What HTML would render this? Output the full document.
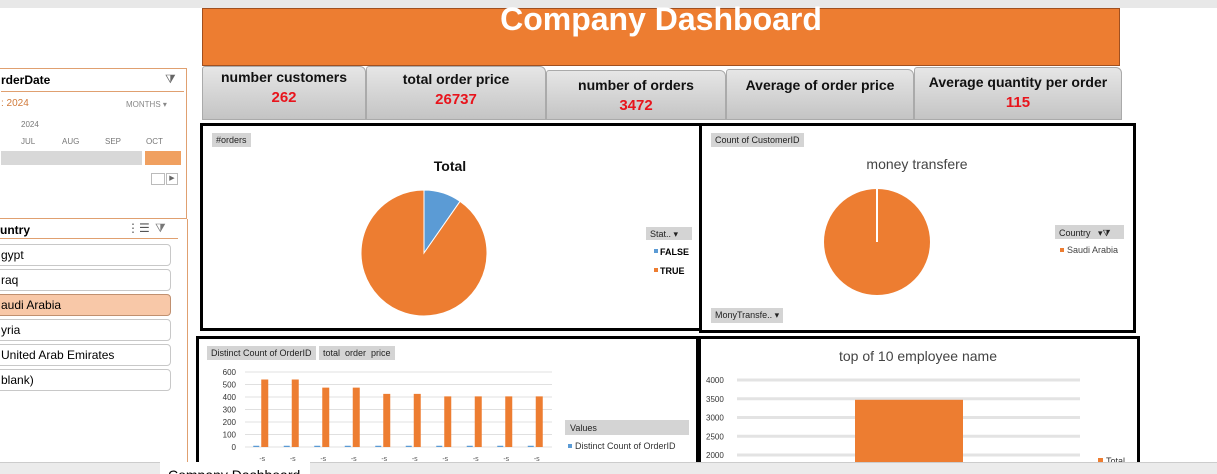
<!DOCTYPE html>
<html style="width:1217px;height:474px;overflow:hidden"><head><meta charset="utf-8"><style>
body{margin:0;width:1217px;height:474px;overflow:hidden;background:#fff;font-family:"Liberation Sans",sans-serif;position:relative}
.a{position:absolute;box-sizing:border-box}
.card{background:linear-gradient(#e6e6e6,#c4c4c4);border:1px solid #aaa;border-radius:3px 6px 0 0;text-align:center;font-weight:bold;font-size:14px;color:#111}
.card .v{color:#e8141c;font-size:15px;margin-top:4px}
.box{border:3px solid #000;background:#fff}
.tag{position:absolute;background:#d4d4d4;font-size:9px;padding:2px 4px;color:#222;white-space:nowrap}
.item{position:absolute;left:-10px;width:181px;height:22px;border:1px solid #c8c8c8;border-radius:4px;font-size:12px;padding:3px 0 0 10px;box-sizing:border-box;background:#fff}
</style></head><body>
<div class="a" style="left:0;top:0;width:1217px;height:8px;background:#e8e8e8"></div>
<div class="a" style="left:202px;top:8px;width:918px;height:58px;background:#ed7d31;border:1px solid #a05020"></div>
<div class="a" style="left:202px;top:0;width:918px;color:#fff;font-weight:bold;font-size:32px;text-align:center;line-height:38px">Company Dashboard</div>

<div class="a card" style="left:202px;top:66px;width:164px;height:54px;padding-top:2px">number customers<div class="v">262</div></div>
<div class="a card" style="left:366px;top:66px;width:180px;height:54px;padding-top:4px">total order price<div class="v">26737</div></div>
<div class="a card" style="left:546px;top:70px;width:180px;height:50px;padding-top:6px">number of orders<div class="v">3472</div></div>
<div class="a card" style="left:726px;top:69px;width:188px;height:51px;padding-top:7px">Average of order price</div>
<div class="a card" style="left:914px;top:67px;width:208px;height:53px;padding-top:6px">Average quantity per order<div class="v">115</div></div>

<div class="a" style="left:-2px;top:68px;width:189px;height:151px;border:1px solid #e0a070;background:#fff">
 <div class="a" style="left:2px;top:4px;font-size:12px;font-weight:bold">rderDate</div>
 <div class="a" style="left:166px;top:3px;font-size:12px;color:#666">⧩</div>
 <div class="a" style="left:2px;top:22px;width:183px;border-top:1px solid #e0a070"></div>
 <div class="a" style="left:2px;top:29px;font-size:10px;color:#d07a3a">: 2024</div>
 <div class="a" style="left:127px;top:31px;font-size:8px;color:#888">MONTHS ▾</div>
 <div class="a" style="left:22px;top:51px;font-size:8px;color:#777">2024</div>
 <div class="a" style="left:22px;top:68px;font-size:8px;color:#777">JUL</div>
 <div class="a" style="left:63px;top:68px;font-size:8px;color:#777">AUG</div>
 <div class="a" style="left:106px;top:68px;font-size:8px;color:#777">SEP</div>
 <div class="a" style="left:147px;top:68px;font-size:8px;color:#777">OCT</div>
 <div class="a" style="left:2px;top:82px;width:141px;height:14px;background:#d8d8d8"></div>
 <div class="a" style="left:146px;top:82px;width:36px;height:14px;background:#f0a060"></div>
 <div class="a" style="left:152px;top:104px;width:14px;height:12px;border:1px solid #bbb"></div>
 <div class="a" style="left:167px;top:104px;width:12px;height:12px;border:1px solid #bbb;font-size:7px;text-align:center;color:#666">▶</div>
</div>

<div class="a" style="left:0;top:219px;width:188px;height:243px;border-right:1px solid #e0a070">
 <div class="a" style="left:0;top:4px;font-size:12px;font-weight:bold">untry</div>
 <div class="a" style="left:127px;top:2px;font-size:12px;color:#555">⋮☰</div>
 <div class="a" style="left:155px;top:2px;font-size:12px;color:#777">⧩</div>
 <div class="a" style="left:0;top:19px;width:178px;border-top:1px solid #e0a070"></div>
 <div class="item" style="top:25px">gypt</div>
 <div class="item" style="top:50px">raq</div>
 <div class="item" style="top:75px;background:#f8c8a8;border-color:#c09070">audi Arabia</div>
 <div class="item" style="top:100px">yria</div>
 <div class="item" style="top:125px">United Arab Emirates</div>
 <div class="item" style="top:150px">blank)</div>
</div>

<div class="a box" style="left:200px;top:123px;width:502px;height:208px">
 <div class="tag" style="left:9px;top:7px">#orders</div>
</div>
<div class="a box" style="left:699px;top:123px;width:437px;height:210px">
 <div class="tag" style="left:9px;top:7px">Count of CustomerID</div>
 <div class="tag" style="left:9px;top:182px">MonyTransfe.. ▾</div>
</div>
<div class="a box" style="left:196px;top:336px;width:503px;height:150px">
 <div class="tag" style="left:8px;top:7px">Distinct Count of OrderID</div>
 <div class="tag" style="left:120px;top:7px">total&nbsp; order&nbsp; price</div>
</div>
<div class="a box" style="left:698px;top:336px;width:442px;height:150px"></div>

<svg class="a" style="left:0;top:0" width="1217" height="474" id="s">
 <text x="450" y="171" font-size="14" font-weight="bold" text-anchor="middle" fill="#111">Total</text>
 <g id="pie1"></g>
 <rect x="646" y="227" width="46" height="13" fill="#d4d4d4"/><text x="650" y="237" font-size="9" fill="#222">Stat.. ▾</text>
 <rect x="654" y="249" width="4" height="4" fill="#5b9bd5"/><text x="660" y="255" font-size="9" font-weight="bold">FALSE</text>
 <rect x="654" y="268" width="4" height="4" fill="#ed7d31"/><text x="660" y="274" font-size="9" font-weight="bold">TRUE</text>
 <text x="917" y="169" font-size="14" text-anchor="middle" fill="#444">money transfere</text>
 <g id="pie2"></g>
 <rect x="1055" y="225" width="69" height="14" fill="#d4d4d4"/><text x="1059" y="236" font-size="9" fill="#222">Country&nbsp;&nbsp; ▾⧩</text>
 <rect x="1060" y="248" width="4" height="4" fill="#ed7d31"/><text x="1067" y="253" font-size="9" fill="#444">Saudi Arabia</text>
 <g id="bar1"></g>
 <rect x="565" y="420" width="124" height="15" fill="#d4d4d4"/><text x="570" y="431" font-size="9" fill="#222">Values</text>
 <rect x="568" y="444" width="4" height="4" fill="#5b9bd5"/><text x="575" y="449" font-size="9" fill="#333">Distinct Count of OrderID</text>
 <text x="918" y="361" font-size="14" text-anchor="middle" fill="#444">top of 10 employee name</text>
 <g id="bar2"></g>
 <rect x="1098" y="458" width="5" height="5" fill="#ed7d31"/><text x="1106" y="464" font-size="9" fill="#333">Total</text>
</svg>

<div class="a" style="left:0;top:462px;width:1217px;height:12px;background:#ebebeb;border-top:1px solid #ccc"></div>
<div class="a" style="left:160px;top:462px;width:150px;height:12px;background:#fff;font-size:14px;padding-left:8px;line-height:26px;overflow:hidden">Company Dashboard</div>

<script>
const pie1Labels=["FALSE","TRUE"];
const pie1Values=[9.7,90.3];
const pie2Labels=["Saudi Arabia"];
const pie2Values=[100];
const bar1Cats=["e1","e2","e3","e4","e5","e6","e7","e8","e9","e10"];
const bar1Orders=[10,10,10,10,10,10,10,10,10,10];
const bar1Price=[540,540,475,475,425,425,405,405,405,405];
const bar1Ticks=[0,100,200,300,400,500,600];
const bar2Cats=["Total"];
const bar2Values=[3472];
const bar2Ticks=[2000,2500,3000,3500,4000];
const NS="http://www.w3.org/2000/svg";
function mk(g,t,at){const e=document.createElementNS(NS,t);for(const k in at)e.setAttribute(k,at[k]);g.appendChild(e);return e;}
function pie(gid,vals,cx,cy,r,cols,name){
 const g=document.getElementById(gid);const tot=vals.reduce((a,b)=>a+b,0);let a0=0;
 vals.forEach((v,i)=>{const a1=a0+v/tot*2*Math.PI;let e;
  if(v/tot>=0.9999){e=mk(g,'circle',{cx:cx,cy:cy,r:r,fill:cols[i]});mk(g,'line',{x1:cx,y1:cy,x2:cx,y2:cy-r,stroke:'#fff','stroke-width':2});}
  else{const x0=cx+r*Math.sin(a0),y0=cy-r*Math.cos(a0),x1=cx+r*Math.sin(a1),y1=cy-r*Math.cos(a1);
  e=mk(g,'path',{d:`M${cx},${cy}L${x0},${y0}A${r},${r} 0 ${a1-a0>Math.PI?1:0} 1 ${x1},${y1}Z`,fill:cols[i],stroke:'#fff','stroke-width':1});}
  
  
  a0=a1;});
}
pie('pie1',pie1Values,424,253,63,['#5b9bd5','#ed7d31'],'pie1');
pie('pie2',pie2Values,877,242,53,['#ed7d31'],'pie2');
(function(){const g=document.getElementById('bar1');
 const y=v=>447-v*(75/600),x0=247,step=30.5;
 bar1Ticks.forEach(t=>{mk(g,'line',{x1:245,x2:552,y1:y(t),y2:y(t),stroke:'#e0e0e0'});
  const tx=mk(g,'text',{x:236,y:y(t)+3,'font-size':8,'text-anchor':'end',fill:'#333'});tx.textContent=t;});
 bar1Cats.forEach((c,i)=>{const cx=x0+step*i+step/2;
  const b=mk(g,'rect',{x:cx-9,y:y(bar1Orders[i]),width:6,height:447-y(bar1Orders[i]),fill:'#5b9bd5'});
  
  
  const o=mk(g,'rect',{x:cx-1,y:y(bar1Price[i]),width:7,height:447-y(bar1Price[i]),fill:'#ed7d31'});
  
  
  const l=mk(g,'text',{x:cx,y:461,'font-size':7,fill:'#555','text-anchor':'middle'});l.textContent='-s';});
})();
(function(){const g=document.getElementById('bar2');
 const y=v=>380+(4000-v)*(75/2000);
 bar2Ticks.forEach(t=>{mk(g,'line',{x1:737,x2:1080,y1:y(t),y2:y(t),stroke:'#e3e3e3','stroke-width':3});
  const tx=mk(g,'text',{x:706,y:y(t)+3,'font-size':8,fill:'#333'});tx.textContent=t;});
 bar2Values.forEach((v,i)=>{const r=mk(g,'rect',{x:855,y:y(v),width:108,height:474-y(v),fill:'#ed7d31'});
  
  });
})();
</script>
</body></html>
